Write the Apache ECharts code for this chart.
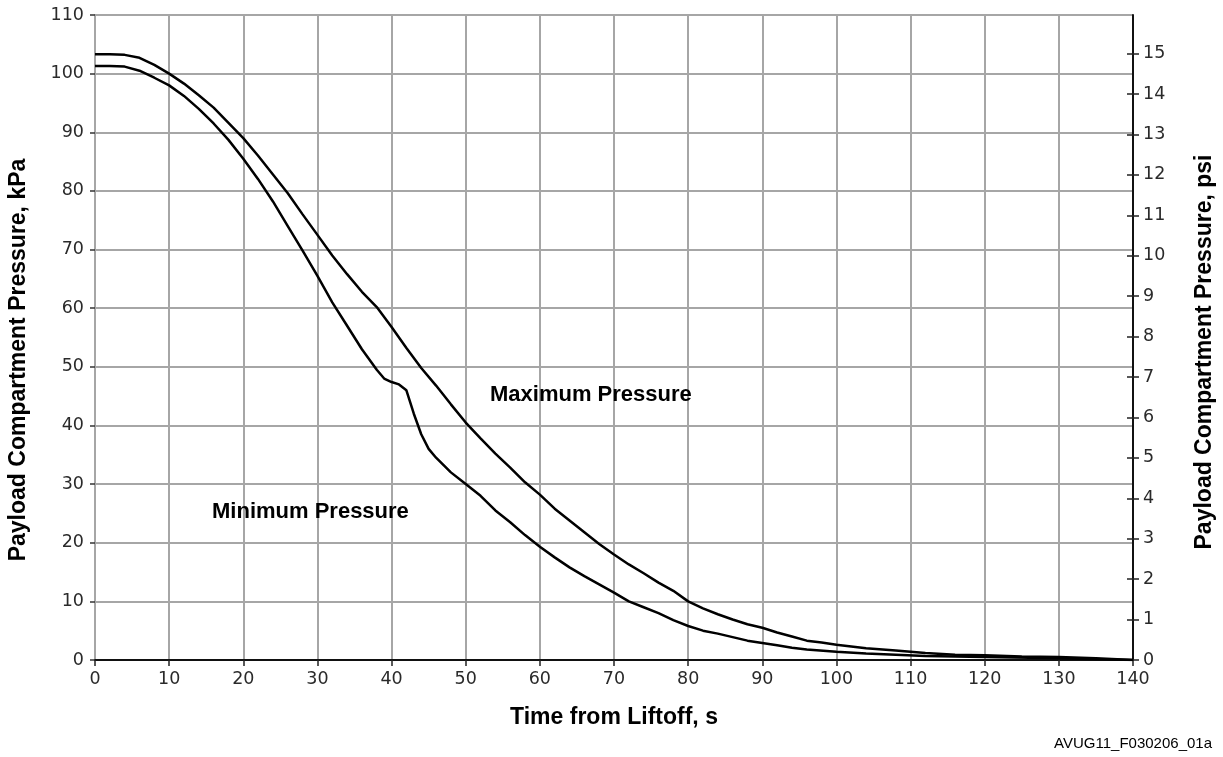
<!DOCTYPE html>
<html>
<head>
<meta charset="utf-8">
<script src="https://cdn.jsdelivr.net/npm/echarts@6/dist/echarts.min.js"></script>
<style>
html,body{margin:0;padding:0;background:#fff;}
#chart{width:1223px;height:757px;}
</style>
</head>
<body>
<div id="chart"></div>
<script>
// ---- data ----
var maxTime = [0,2,4,6,8,10,12,14,16,18,20,22,24,26,28,30,32,34,36,38,40,42,44,46,48,50,52,54,56,58,60,62,64,66,68,70,72,74,76,78,80,82,84,86,88,90,92,94,96,98,100,104,108,112,116,120,125,130,135,140];
var maxKPa  = [103.3,103.3,103.2,102.7,101.5,100.0,98.3,96.3,94.2,91.6,89.0,86.0,82.8,79.6,76.0,72.5,69.0,65.8,62.8,60.2,56.8,53.2,49.8,46.8,43.6,40.5,37.8,35.2,32.8,30.3,28.2,25.8,23.8,21.8,19.8,18.0,16.3,14.8,13.2,11.8,10.0,8.8,7.8,6.9,6.1,5.5,4.7,4.0,3.3,3.0,2.6,2.0,1.6,1.2,0.9,0.8,0.6,0.5,0.3,0];
var minTime = [0,2,4,6,8,10,12,14,16,18,20,22,24,26,28,30,32,34,36,38,39,40,41,42,43,44,45,46,48,50,52,54,56,58,60,62,64,66,68,70,72,74,76,78,80,82,84,86,88,90,92,94,96,100,104,108,112,116,120,130,140];
var minKPa  = [101.3,101.3,101.2,100.5,99.3,98.0,96.2,94.0,91.5,88.7,85.5,82.0,78.2,74.0,69.8,65.5,61.0,57.0,53.0,49.5,48.0,47.4,47.0,46.0,42.0,38.5,36.0,34.5,32.0,30.0,28.0,25.5,23.5,21.3,19.3,17.5,15.8,14.3,12.9,11.5,10.0,9.0,8.0,6.8,5.8,5.0,4.5,3.9,3.3,2.9,2.5,2.1,1.8,1.4,1.1,0.9,0.7,0.6,0.5,0.3,0];
var psiTicks = [0,1,2,3,4,5,6,7,8,9,10,11,12,13,14,15];
var kPaPerPsi = 6.894757;
var xTitle = 'Time from Liftoff, s';
var yTitleLeft = 'Payload Compartment Pressure, kPa';
var yTitleRight = 'Payload Compartment Pressure, psi';
var maxLabel = 'Maximum Pressure';
var minLabel = 'Minimum Pressure';
var caption = 'AVUG11_F030206_01a';

function pairs(xs, ys){ return xs.map(function(x,i){ return [x, ys[i]]; }); }

var tickFont = {fontFamily:'DejaVu Sans', fontSize:17.5, color:'#2a2a2a'};
var titleFont = 'bold 23px "Liberation Sans", Arial, sans-serif';
var gridRect = {left:95, right:90, top:15, bottom:97, containLabel:false};

var chart = echarts.init(document.getElementById('chart'), null, {renderer:'canvas'});
chart.setOption({
  animation:false,
  backgroundColor:'#fff',
  grid:[gridRect, Object.assign({}, gridRect)],
  xAxis:[
    {
      gridIndex:0, type:'value', min:0, max:140, interval:10,
      axisLine:{show:true, onZero:false, lineStyle:{color:'#111', width:2}},
      axisTick:{show:true, length:6, lineStyle:{color:'#222', width:1.5}},
      axisLabel:Object.assign({margin:10}, tickFont),
      splitLine:{show:true, lineStyle:{color:'#a6a6a6', width:2}}
    },
    {
      gridIndex:1, type:'value', min:0, max:140, show:false
    }
  ],
  yAxis:[
    {
      gridIndex:0, type:'value', min:0, max:110, interval:10, position:'left',
      axisLine:{show:true, onZero:false, lineStyle:{color:'#a6a6a6', width:2}},
      axisTick:{show:true, length:5, lineStyle:{color:'#333', width:1.5}},
      axisLabel:Object.assign({margin:11}, tickFont),
      splitLine:{show:true, lineStyle:{color:'#a6a6a6', width:2}}
    },
    {
      gridIndex:0, type:'value', min:0, max:110/kPaPerPsi, position:'right',
      axisLine:{show:true, onZero:false, lineStyle:{color:'#111', width:2}},
      axisTick:{show:true, length:6, customValues:psiTicks, lineStyle:{color:'#222', width:1.5}},
      axisLabel:Object.assign({margin:10, customValues:psiTicks}, tickFont),
      splitLine:{show:false}
    },
    {
      gridIndex:1, type:'value', min:0, max:110/kPaPerPsi, position:'right',
      axisLine:{show:false, onZero:false},
      axisTick:{show:true, inside:true, length:6, customValues:psiTicks, lineStyle:{color:'#222', width:1.5}},
      axisLabel:{show:false},
      splitLine:{show:false}
    }
  ],
  series:[
    {type:'line', name:maxLabel, data:pairs(maxTime, maxKPa), xAxisIndex:0, yAxisIndex:0,
     showSymbol:false, smooth:false, lineStyle:{color:'#000', width:2.5}, z:5},
    {type:'line', name:minLabel, data:pairs(minTime, minKPa), xAxisIndex:0, yAxisIndex:0,
     showSymbol:false, smooth:false, lineStyle:{color:'#000', width:2.5}, z:5}
  ],
  graphic:[
    {type:'text', style:{text:xTitle, font:titleFont, fill:'#000', textAlign:'center', textVerticalAlign:'middle'}, x:614, y:718},
    {type:'text', style:{text:yTitleLeft, font:titleFont, fill:'#000', textAlign:'center', textVerticalAlign:'middle'}, x:19, y:360, rotation:Math.PI/2},
    {type:'text', style:{text:yTitleRight, font:titleFont, fill:'#000', textAlign:'center', textVerticalAlign:'middle'}, x:1205, y:352, rotation:Math.PI/2},
    {type:'text', style:{text:maxLabel, font:'bold 22px "Liberation Sans", Arial, sans-serif', fill:'#000', textAlign:'left', textVerticalAlign:'middle'}, x:490, y:395, z:10},
    {type:'text', style:{text:minLabel, font:'bold 22px "Liberation Sans", Arial, sans-serif', fill:'#000', textAlign:'left', textVerticalAlign:'middle'}, x:212, y:512, z:10},
    {type:'text', style:{text:caption, font:'15px "Liberation Sans", Arial, sans-serif', fill:'#000', textAlign:'right', textVerticalAlign:'middle'}, x:1212, y:744}
  ]
});
</script>
</body>
</html>
